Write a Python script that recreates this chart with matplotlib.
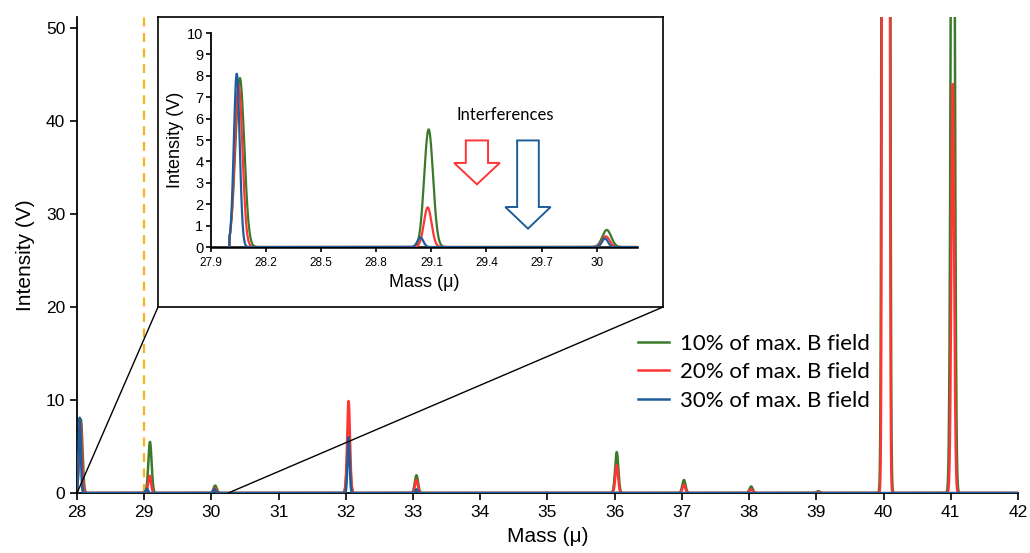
import numpy as np
import matplotlib
matplotlib.use('Agg')
import matplotlib.pyplot as plt
from matplotlib.patches import ConnectionPatch

plt.rcParams['font.family'] = ['Liberation Sans', 'DejaVu Sans']

# ---------------- data ----------------
series_labels = ['10% of max. B field', '20% of max. B field', '30% of max. B field']
series_colors = ['#3b7a2b', '#ff3535', '#1f5d9a']

# peak centres (mass, u) and heights (V) per series
green_centers = [28.057, 29.085, 30.055, 32.04, 33.05, 36.03, 37.03, 38.03, 39.03, 40.035, 41.03]
green_heights = [7.9, 5.5, 0.8, 5.5, 1.9, 4.4, 1.4, 0.7, 0.2, 3000, 120]
red_centers = [28.05, 29.08, 30.05, 32.04, 33.05, 36.03, 37.03, 38.03, 39.03, 40.035, 41.03]
red_heights = [7.6, 1.85, 0.5, 9.9, 1.4, 3.0, 0.9, 0.4, 0.1, 3500, 44]
blue_centers = [28.04, 29.04, 30.045, 32.04, 33.05, 36.03]
blue_heights = [8.1, 0.45, 0.4, 6.0, 0.4, 0.05]
peak_widths = [0.024, 0.021, 0.016]  # gaussian sigma per series
scan_start, scan_end = 28.0, 42.0

main_xticks = list(range(28, 43))
main_yticks = [0, 10, 20, 30, 40, 50]
inset_xticks = [27.9, 28.2, 28.5, 28.8, 29.1, 29.4, 29.7, 30.0]
inset_xtick_labels = ['27.9', '28.2', '28.5', '28.8', '29.1', '29.4', '29.7', '30']
inset_yticks = list(range(0, 11))

centers = [green_centers, red_centers, blue_centers]
heights = [green_heights, red_heights, blue_heights]

mass = np.arange(scan_start, scan_end + 1e-9, 0.002)


def spectrum(c_list, h_list, sigma):
    y = np.zeros_like(mass)
    for c, h in zip(c_list, h_list):
        y += h * np.exp(-0.5 * ((mass - c) / sigma) ** 2)
    return y


spectra = [spectrum(c, h, s) for c, h, s in zip(centers, heights, peak_widths)]
# the scan begins at zero signal
mass_plot = np.concatenate([[scan_start], mass])
spectra = [np.concatenate([[0.0], y]) for y in spectra]

# ---------------- figure ----------------
fig = plt.figure(figsize=(10.3, 5.53), dpi=100)
ax = fig.add_axes([0.0748, 0.1085, 0.9135, 0.8605])

lines = []
for y, col, lab in zip(spectra, series_colors, series_labels):
    ln, = ax.plot(mass_plot, y, color=col, lw=1.8, label=lab, zorder=3)
    lines.append(ln)

ax.axvline(29, color='#f4b41a', lw=1.6, ls=(0, (4, 3)), zorder=2)

ax.set_xlim(28, 42)
ax.set_ylim(0, 51.2)
ax.set_xticks(main_xticks)
ax.set_yticks(main_yticks)
for s in ['top', 'right']:
    ax.spines[s].set_visible(False)
for s in ['left', 'bottom']:
    ax.spines[s].set_linewidth(1.3)
ax.tick_params(direction='out', length=5, width=1.2, labelsize=12.5)
ax.set_xlabel('Mass (\u03bc)', fontsize=15, labelpad=5)
ax.set_ylabel('Intensity (V)', fontsize=15, labelpad=8)

fig.legend(handles=lines, loc='upper left', bbox_to_anchor=(0.6085, 0.4165),
           frameon=False, borderpad=0, prop={'family': 'Lato', 'size': 16},
           handlelength=1.4, handletextpad=0.5, labelspacing=0.38)

# ---------------- inset frame ----------------
frame = fig.add_axes([0.1534, 0.4448, 0.4903, 0.5242], zorder=3)
frame.set_xticks([])
frame.set_yticks([])
frame.set_facecolor('white')
for s in frame.spines.values():
    s.set_linewidth(1.2)

ins = fig.add_axes([0.2049, 0.5533, 0.4136, 0.387], zorder=4)
ins.set_facecolor('none')
for y, col in zip(spectra, series_colors):
    ins.plot(mass_plot, y, color=col, lw=1.6, zorder=3)
ins.set_xlim(27.9, 30.22)
ins.set_ylim(0, 10)
ins.set_xticks(inset_xticks)
ins.set_xticklabels(inset_xtick_labels)
ins.set_yticks(inset_yticks)
for s in ['top', 'right']:
    ins.spines[s].set_visible(False)
ins.spines['bottom'].set_linewidth(1.8)
ins.spines['left'].set_linewidth(1.3)
ins.tick_params(direction='out', length=3.5, width=1.2)
ins.tick_params(axis='x', labelsize=8.5)
ins.tick_params(axis='y', labelsize=10.5, pad=2)
ins.set_xlabel('Mass (\u03bc)', fontsize=13, labelpad=4)
ins.set_ylabel('Intensity (V)', fontsize=13, labelpad=2)

ins.text(29.5, 6.15, 'Interferences', ha='center', va='center',
         fontsize=12, family='Lato')
ins.arrow(29.348, 4.98, 0, -2.05, width=0.121, head_width=0.249, head_length=1.0,
          length_includes_head=True, fc='white', ec=series_colors[1], lw=1.4, zorder=5)
ins.arrow(29.626, 4.98, 0, -4.12, width=0.118, head_width=0.247, head_length=1.01,
          length_includes_head=True, fc='white', ec=series_colors[2], lw=1.4, zorder=5)

# zoom connectors
for xa, xb in [(28.0, 0.0), (30.25, 1.0)]:
    con = ConnectionPatch(xyA=(xa, 0), coordsA=ax.transData,
                          xyB=(xb, 0), coordsB=frame.transAxes,
                          color='black', lw=1.0, zorder=2)
    fig.add_artist(con)

fig.savefig('out.png', dpi=100)
